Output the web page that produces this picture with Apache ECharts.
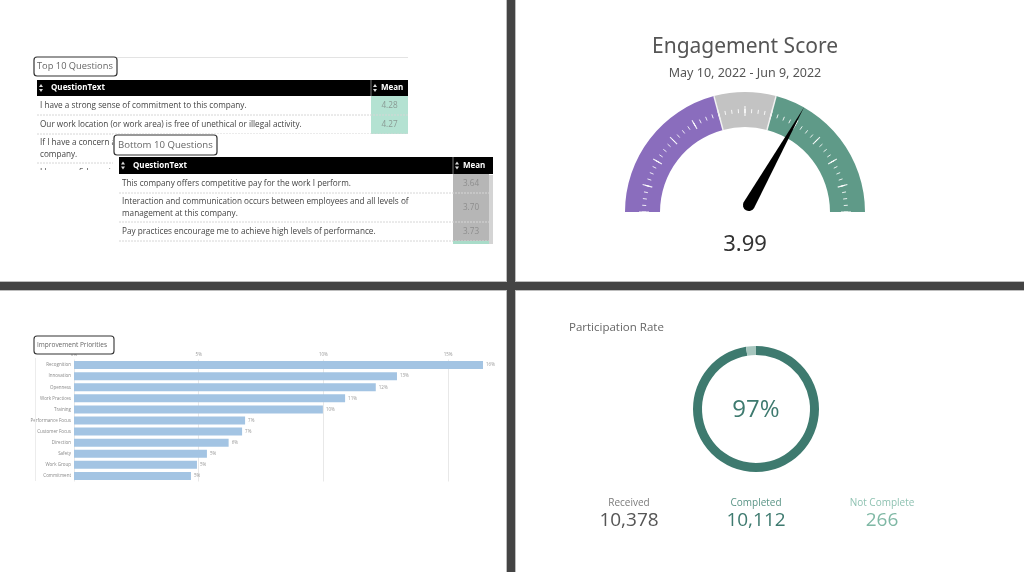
<!DOCTYPE html>
<html><head><meta charset="utf-8">
<script src="https://cdn.jsdelivr.net/npm/echarts@6/dist/echarts.min.js"></script>
<style>html,body{margin:0;padding:0;background:#fff}#c{width:1024px;height:572px}</style>
</head><body><div id="c"></div><script>
// ---------- data ----------
const topQuestions = [
  'I have a strong sense of commitment to this company.',
  'Our work location (or work area) is free of unethical or illegal activity.',
  'If I have a concern about ethical conduct, I know whom to contact in this\ncompany.',
  'I have confidence in the decisions made by the leaders of this company.'
];
const topMeans = [4.28, 4.27, 4.25, 4.22];
const bottomQuestions = [
  'This company offers competitive pay for the work I perform.',
  'Interaction and communication occurs between employees and all levels of\nmanagement at this company.',
  'Pay practices encourage me to achieve high levels of performance.',
  'I receive the recognition I deserve for the work I do.'
];
const bottomMeans = [3.64, 3.70, 3.73, 3.78];
const priorityCategories = ['Recognition','Innovation','Openness','Work Practices','Training','Performance Focus','Customer Focus','Direction','Safety','Work Group','Commitment'];
const priorityValues = [16.4, 12.95, 12.1, 10.87, 9.98, 6.86, 6.74, 6.2, 5.33, 4.93, 4.69];
const priorityTickStep = 5;
const engagementScore = 3.99;
const engagementMin = 2, engagementMax = 5;
const engagementBands = [3.25, 3.75, 5];
const engagementColors = ['#8a6dbd', '#c3c3c3', '#5f9a88'];
const participationLabels = ['Received', 'Completed', 'Not Complete'];
const participationValues = [10378, 10112, 266];

// ---------- helpers ----------
const FONT = 'Open Sans';
function txt(x, y, text, size, fill, opt) {
  opt = opt || {};
  return { type: 'text', z: opt.z || 10, silent: true,
    style: { x, y, text, fontSize: size, fill, fontFamily: opt.family || FONT,
      fontWeight: opt.weight || 'normal', textAlign: opt.align || 'left',
      textVerticalAlign: opt.valign || 'middle' } };
}
function rect(x, y, w, h, style, z, r) {
  return { type: 'rect', z: z || 5, silent: true, shape: { x, y, width: w, height: h, r: r || 0 }, style };
}
function sortIcon(x, y, z) {
  return [
    { type: 'polygon', z, silent: true, shape: { points: [[x - 2, y - 1], [x + 2, y - 1], [x, y - 4]] }, style: { fill: '#ddd' } },
    { type: 'polygon', z, silent: true, shape: { points: [[x - 2, y + 1], [x + 2, y + 1], [x, y + 4]] }, style: { fill: '#ddd' } }
  ];
}
function buildTable(cfg) {
  const z = cfg.z, els = [];
  els.push(rect(cfg.x0, cfg.headerY, cfg.x1 - cfg.x0, cfg.headerH, { fill: '#000' }, z));
  els.push({ type: 'line', z, silent: true, shape: { x1: cfg.meanX, y1: cfg.headerY, x2: cfg.meanX, y2: cfg.headerY + cfg.headerH }, style: { stroke: '#777', lineWidth: 1 } });
  els.push(...sortIcon(cfg.x0 + 4, cfg.headerY + cfg.headerH / 2, z + 1));
  els.push(...sortIcon(cfg.meanX + 4, cfg.headerY + cfg.headerH / 2, z + 1));
  els.push(txt(cfg.x0 + 14, cfg.headerY + cfg.headerH / 2, 'QuestionText', 8, '#fff', { weight: 'bold', z: z + 1 }));
  els.push(txt(cfg.meanX + 10, cfg.headerY + cfg.headerH / 2, 'Mean', 8, '#fff', { weight: 'bold', z: z + 1 }));
  let y = cfg.headerY + cfg.headerH;
  cfg.questions.forEach((q, i) => {
    const lines = q.split('\n');
    const h = lines.length > 1 ? 29 : 19;
    els.push(rect(cfg.meanX, y, cfg.cellRight - cfg.meanX, h, { fill: cfg.meanFill }, z));
    lines.forEach((l, j) => {
      els.push(txt(cfg.x0 + 3, y + h / 2 + (j - (lines.length - 1) / 2) * 12.5, l, 8.2, '#444', { z: z + 1 }));
    });
    els.push(txt((cfg.meanX + cfg.cellRight) / 2, y + h / 2, cfg.means[i].toFixed(2), 8.2, cfg.meanText, { align: 'center', z: z + 1 }));
    els.push({ type: 'line', z: z + 1, silent: true, shape: { x1: cfg.x0, y1: y + h, x2: cfg.x1, y2: y + h }, style: { stroke: '#d6d6d6', lineWidth: 1, lineDash: [2, 1] } });
    y += h;
  });
  return els;
}

// ---------- graphics ----------
const g = [];
// top-left panel
g.push({ type: 'line', z: 4, silent: true, shape: { x1: 36, y1: 57.5, x2: 408, y2: 57.5 }, style: { stroke: '#e3e3e3', lineWidth: 1 } });
g.push(...buildTable({ x0: 37, x1: 408, cellRight: 408, meanX: 371, headerY: 80, headerH: 16, questions: topQuestions, means: topMeans, meanFill: '#b4e2d2', meanText: '#8a9a94', z: 10 }));
g.push(rect(28, 170, 92, 80, { fill: '#fff' }, 20));
g.push(rect(34, 57, 83, 19, { fill: '#fff', stroke: '#333', lineWidth: 1.2 }, 21, 3));
g.push(txt(37, 66.5, 'Top 10 Questions', 9.3, '#666', { z: 22 }));
// bottom table overlay
g.push(rect(113, 134, 382, 112, { fill: '#fff' }, 30));
g.push(...buildTable({ x0: 119, x1: 493, cellRight: 489, meanX: 453, headerY: 157, headerH: 17, questions: bottomQuestions, means: bottomMeans, meanFill: '#b6b6b6', meanText: '#8e8e8e', z: 31 }));
// last visible bottom row mean cell is teal
g.push(rect(453, 241, 36, 30, { fill: '#a9dcc9' }, 33));
g.push(rect(489, 175, 4, 70, { fill: '#d4d4d4' }, 34));
g.push(rect(28, 244, 470, 37, { fill: '#fff' }, 40));
g.push(rect(114, 135, 103, 20, { fill: '#fff', stroke: '#333', lineWidth: 1.2 }, 41, 3));
g.push(txt(118, 145, 'Bottom 10 Questions', 9.6, '#666', { z: 42 }));

// bottom-left panel
g.push({ type: 'line', z: 1, silent: true, shape: { x1: 35.5, y1: 358, x2: 35.5, y2: 481 }, style: { stroke: '#ececec', lineWidth: 1 } });
g.push(rect(34, 336, 80, 18, { fill: '#fff', stroke: '#333', lineWidth: 1.1 }, 21, 3));
g.push(txt(37, 345, 'Improvement Priorities', 6.5, '#666', { z: 22 }));

// top-right panel
g.push(txt(745, 47, 'Engagement Score', 21, '#555', { align: 'center', family: 'Noto Sans' }));
g.push(txt(745, 73, 'May 10, 2022 - Jun 9, 2022', 12.5, '#555', { align: 'center', family: 'Noto Sans' }));

// bottom-right panel
const received = participationValues[0], completed = participationValues[1], notComplete = participationValues[2];
g.push(txt(569, 328, 'Participation Rate', 11.5, '#666'));
g.push(txt(756, 410, Math.round(completed / received * 100) + '%', 24, '#3e7a6f', { align: 'center' }));
const statX = [629, 756, 882];
const statLabelColors = ['#7a7a7a', '#5a9486', '#8fc2b2'];
const statValueColors = ['#555', '#3e7a6f', '#7fb8a5'];
participationLabels.forEach((l, i) => {
  g.push(txt(statX[i], 503, l, 10, statLabelColors[i], { align: 'center' }));
  g.push(txt(statX[i], 521, participationValues[i].toLocaleString('en-US'), 19, statValueColors[i], { align: 'center' }));
});

// dividers
g.push(rect(0, 281, 1024, 10, { fill: '#bdbdbd' }, 99));
g.push(rect(506, 0, 10, 572, { fill: '#bdbdbd' }, 99));
g.push(rect(0, 282, 1024, 8, { fill: '#444' }, 100));
g.push(rect(507, 0, 8, 572, { fill: '#444' }, 100));

// ---------- gauge geometry from data ----------
const span = engagementMax - engagementMin;
const bandStops = engagementBands.map((b, i) => [(b - engagementMin) / span, engagementColors[i]]);
const sepStart = 180 - bandStops[0][0] * 180;
const sepEnd = 180 - bandStops[1][0] * 180;

// ---------- chart ----------
const chart = echarts.init(document.getElementById('c'), null, { renderer: 'canvas' });
const axisMax = 17.5;
chart.setOption({
  animation: false,
  backgroundColor: '#fff',
  graphic: { elements: g },
  grid: { left: 74, top: 359.5, width: axisMax * 24.94, height: 122, containLabel: false },
  xAxis: {
    type: 'value', position: 'top', min: 0, max: axisMax, interval: priorityTickStep,
    axisLine: { show: false }, axisTick: { show: false },
    axisLabel: { formatter: '{value}%', fontSize: 4.5, color: '#999', margin: 2, showMaxLabel: false, fontFamily: FONT },
    splitLine: { lineStyle: { color: ['#e8e8e8', '#e8e8e8', '#e8e8e8', '#e8e8e8', 'rgba(0,0,0,0)'], width: 1 } }
  },
  yAxis: {
    type: 'category', data: priorityCategories, inverse: true,
    axisLine: { show: false }, axisTick: { show: false },
    axisLabel: { fontSize: 4.5, color: '#888', margin: 3, fontFamily: FONT }
  },
  series: [
    {
      type: 'bar', data: priorityValues, barWidth: 8,
      itemStyle: { color: '#a3c4e3' },
      label: { show: true, position: 'right', distance: 3, fontSize: 4.5, color: '#999', fontFamily: FONT,
        formatter: p => Math.round(p.value) + '%' }
    },
    {
      type: 'gauge', center: [745, 212], radius: 120, startAngle: 180, endAngle: 0,
      min: engagementMin, max: engagementMax, splitNumber: 12,
      axisLine: { lineStyle: { width: 35, color: bandStops } },
      splitLine: { distance: -21, length: 10, lineStyle: { color: 'rgba(255,255,255,0.9)', width: 1.1 } },
      axisTick: { splitNumber: 4, distance: -18, length: 4, lineStyle: { color: 'rgba(255,255,255,0.85)', width: 1 } },
      axisLabel: { show: false },
      pointer: { icon: 'path://M5,0 L10,95 A5,5 0 0 1 0,95 Z', length: 118, width: 12, offsetCenter: [0, -2], keepAspect: false, itemStyle: { color: '#000' } },
      anchor: { show: false }, title: { show: false },
      detail: { offsetCenter: [0, 33], fontSize: 22, color: '#333', fontFamily: 'Noto Sans', fontWeight: 'normal', formatter: v => v.toFixed(2) },
      data: [{ value: engagementScore }]
    },
    {
      type: 'gauge', center: [745, 212], radius: 120, startAngle: sepStart, endAngle: sepEnd,
      min: 0, max: 1, splitNumber: 1,
      axisLine: { lineStyle: { width: 35, color: [[1, 'rgba(0,0,0,0)']] } },
      splitLine: { distance: -35, length: 35, lineStyle: { color: '#f2f2f2', width: 1.5 } },
      axisTick: { show: false }, axisLabel: { show: false },
      pointer: { show: false }, anchor: { show: false }, title: { show: false }, detail: { show: false },
      data: [{ value: 0 }]
    },
    {
      type: 'pie', center: [756, 409], radius: [54, 63], startAngle: 90, clockwise: true,
      label: { show: false }, labelLine: { show: false }, silent: true,
      data: [
        { value: completed, itemStyle: { color: '#3e7a6f' } },
        { value: notComplete, itemStyle: { color: '#a6c6be' } }
      ]
    }
  ]
});
</script></body></html>
